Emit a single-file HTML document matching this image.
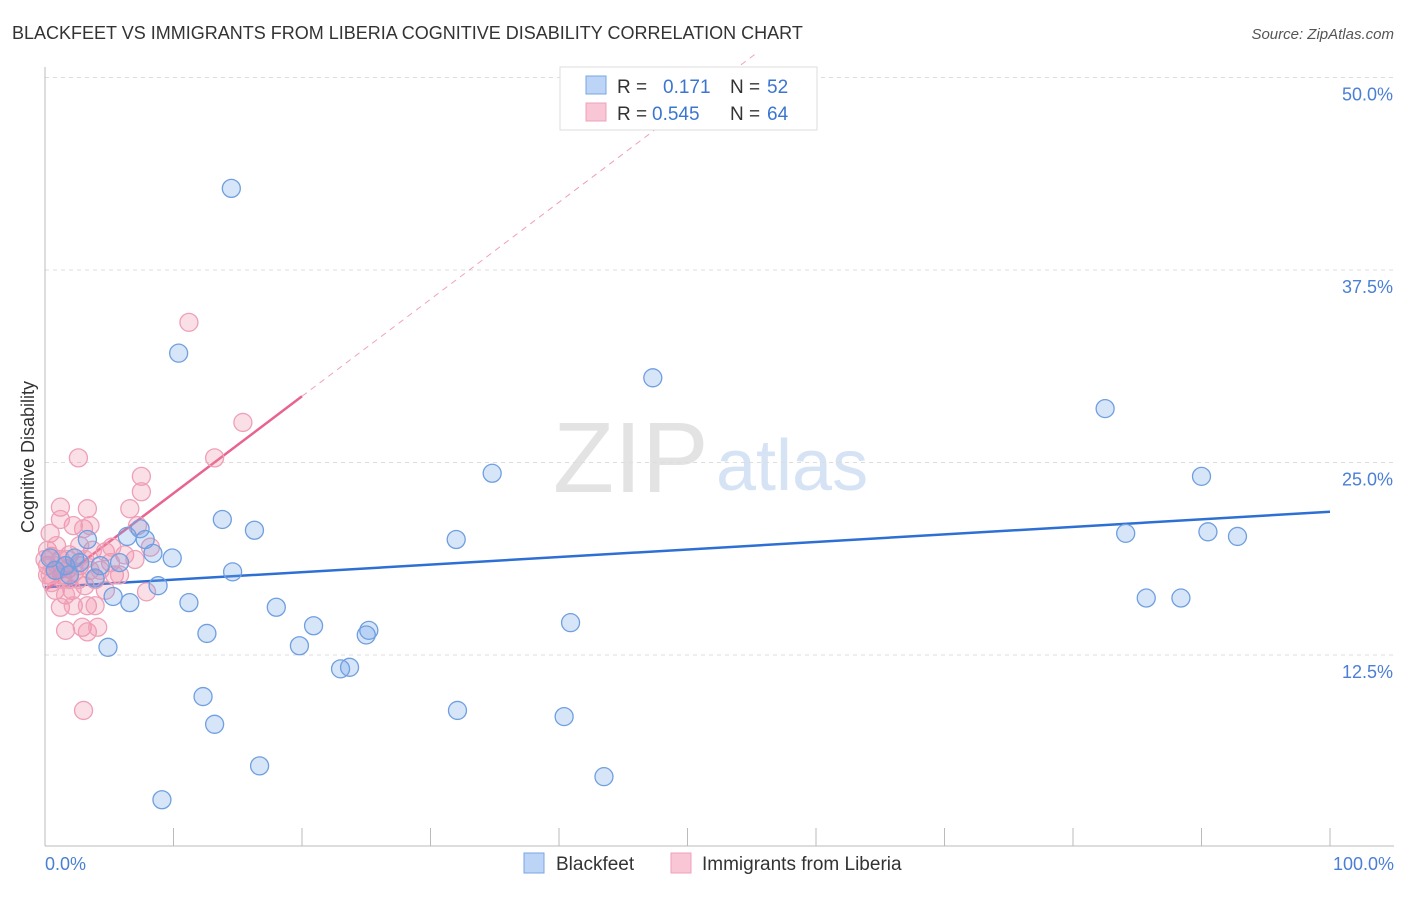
<!DOCTYPE html>
<html><head><meta charset="utf-8"><style>
body{margin:0;background:#fff;font-family:"Liberation Sans",sans-serif;}
svg text{font-family:"Liberation Sans",sans-serif;}
</style></head><body>
<svg id="chart" width="1406" height="892" xmlns="http://www.w3.org/2000/svg">
<text x="12" y="39" font-size="18" fill="#333">BLACKFEET VS IMMIGRANTS FROM LIBERIA COGNITIVE DISABILITY CORRELATION CHART</text>
<text x="1394" y="39" font-size="15" fill="#555" font-style="italic" text-anchor="end">Source: ZipAtlas.com</text>
<text x="553" y="492" font-size="100" fill="#e3e3e3" font-family="Liberation Serif">ZIP</text>
<text x="716" y="490" font-size="72" fill="#d5e3f5">atlas</text>
<g id="grid"></g><g id="axes"></g>
<g id="lines"></g><g id="pts"></g>
<text transform="translate(34,457) rotate(-90)" font-size="18" fill="#333" text-anchor="middle">Cognitive Disability</text>
<text x="45" y="870" font-size="18" fill="#4a7fd4">0.0%</text>
<text x="1394" y="870" font-size="18" fill="#4a7fd4" text-anchor="end">100.0%</text>
<g>
<rect x="560" y="67" width="257" height="63" fill="#fff" stroke="#ddd"/>
<rect x="586" y="76" width="20" height="18" fill="#bcd4f5" stroke="#7aa5e3"/>
<rect x="586" y="103" width="20" height="18" fill="#f9c6d5" stroke="#eea0b8"/>
<text x="617" y="93" font-size="19" fill="#333">R =</text><text x="663" y="93" font-size="19" fill="#3a76d0">0.171</text>
<text x="730" y="93" font-size="19" fill="#333">N =</text><text x="767" y="93" font-size="19" fill="#3a76d0">52</text>
<text x="617" y="120" font-size="19" fill="#333">R =</text><text x="652" y="120" font-size="19" fill="#3a76d0">0.545</text>
<text x="730" y="120" font-size="19" fill="#333">N =</text><text x="767" y="120" font-size="19" fill="#3a76d0">64</text>
</g>
<g>
<rect x="524" y="853" width="20" height="20" fill="#bcd4f5" stroke="#7aa5e3"/>
<text x="556" y="870" font-size="19" fill="#333">Blackfeet</text>
<rect x="671" y="853" width="20" height="20" fill="#f9c6d5" stroke="#eea0b8"/>
<text x="702" y="870" font-size="19" fill="#333">Immigrants from Liberia</text>
</g>
</svg>
<script>
const yTicks=[12.5,25,37.5,50];
const yTickLabels=["12.5%","25.0%","37.5%","50.0%"];
const blueX=[14.5,10.4,47.3,82.5,34.8,90.0,13.8,16.3,7.4,6.4,3.3,7.8,32.0,84.1,90.5,92.8,8.4,9.9,2.3,2.7,5.8,4.3,14.6,3.9,8.8,5.3,6.6,11.2,18.0,85.7,88.4,40.9,20.9,12.6,25.2,25.0,4.9,19.8,23.7,23.0,12.3,32.1,40.4,13.2,16.7,43.5,9.1,50.0,0.4,0.8,1.6,1.9];
const blueY=[42.8,32.1,30.5,28.5,24.3,24.1,21.3,20.6,20.7,20.2,20.0,20.0,20.0,20.4,20.5,20.2,19.1,18.8,18.8,18.5,18.5,18.3,17.9,17.5,17.0,16.3,15.9,15.9,15.6,16.2,16.2,14.6,14.4,13.9,14.1,13.8,13.0,13.1,11.7,11.6,9.8,8.9,8.5,8.0,5.3,4.6,3.1,49.8,18.8,18.0,18.3,17.7];
const pinkX=[11.2,15.4,2.6,13.2,7.5,7.5,1.2,3.3,6.6,2.2,3.0,3.5,7.2,0.4,8.2,4.7,6.2,0.5,1.2,1.9,0.2,0.8,1.3,1.8,2.3,2.7,3.5,5.1,5.4,3.9,3.1,2.1,0.8,1.6,7.9,1.2,2.2,3.3,3.9,1.6,2.9,3.3,4.1,3.0,0,0.2,1.0,1.4,2.6,0.5,4.3,4.7,5.8,3.7,7.0,0.2,0.9,1.7,2.7,5.2,0.4,1.9,3.1,1.2];
const pinkY=[34.1,27.6,25.3,25.3,24.1,23.1,22.1,22.0,22.0,20.9,20.7,20.9,20.9,20.4,19.5,19.2,19.0,18.9,18.7,19.0,18.3,18.0,17.7,18.1,17.9,18.3,18.0,18.5,17.7,17.4,17.0,16.7,16.7,16.4,16.6,15.6,15.7,15.7,15.7,14.1,14.3,14.0,14.3,8.9,18.7,17.7,18.3,17.4,17.4,17.2,18.0,16.7,17.7,19.3,18.7,19.3,19.6,18.7,19.6,19.5,17.7,17.4,18.7,21.3];
const blueTrend=[16.9,21.8];
const pinkTrend=[16.7,29.3];
const NS="http://www.w3.org/2000/svg";
const X=v=>45+v*12.85, Y=v=>655-(v-12.5)*15.4;
function mk(t,a,p){const e=document.createElementNS(NS,t);for(const k in a)e.setAttribute(k,a[k]);document.getElementById(p).appendChild(e);return e;}
yTicks.forEach((t,i)=>{
 const g=mk('line',{x1:45,x2:1394,y1:Y(t),y2:Y(t),stroke:'#ddd','stroke-dasharray':'4,4'},'grid');
 
 
 const l=mk('text',{x:1393,y:Y(t)+23,'font-size':18,fill:'#4a7fd4','text-anchor':'end'},'grid');
 l.textContent=yTickLabels[i];
 
 
});
const ya=mk('line',{x1:45,x2:45,y1:67,y2:846,stroke:'#bbb'},'axes');


const xa=mk('line',{x1:45,x2:1394,y1:846,y2:846,stroke:'#bbb'},'axes');


for(let i=1;i<=10;i++){const tk=mk('line',{x1:X(i*10),x2:X(i*10),y1:828,y2:846,stroke:'#bbb'},'axes');
 
 }
function pts(xs,ys,fill,stroke,name){xs.forEach((x,i)=>{const c=mk('circle',{cx:X(x),cy:Y(ys[i]),r:9,fill:fill,stroke:stroke,'stroke-width':1.3},'pts');
 
 });}
pts(pinkX,pinkY,'rgba(240,140,170,0.28)','#eea0b8','liberia-point');
pts(blueX,blueY,'rgba(110,160,230,0.28)','#6f9fe0','blackfeet-point');
const bl=mk('line',{x1:X(0),y1:Y(blueTrend[0]),x2:X(100),y2:Y(blueTrend[1]),stroke:'#2e6fd4','stroke-width':2.5},'lines');


const slope=(pinkTrend[1]-pinkTrend[0])/20, xe=(51.5-pinkTrend[0])/slope;
const pd=mk('line',{x1:X(20),y1:Y(pinkTrend[1]),x2:X(xe),y2:Y(51.5),stroke:'#f0a0b8','stroke-width':1,'stroke-dasharray':'6,5'},'lines');


const pl=mk('line',{x1:X(0),y1:Y(pinkTrend[0]),x2:X(20),y2:Y(pinkTrend[1]),stroke:'#e8648e','stroke-width':2.5},'lines');


</script>
</body></html>
